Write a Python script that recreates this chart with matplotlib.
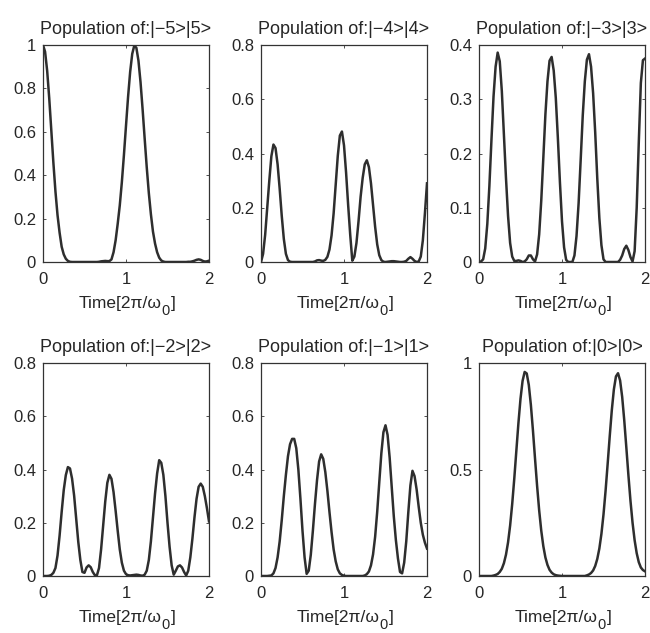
import numpy as np
import matplotlib
matplotlib.use("Agg")
import matplotlib.pyplot as plt

plt.rcParams['font.family'] = ['Liberation Sans', 'DejaVu Sans']
plt.rcParams['mathtext.fontset'] = 'custom'
plt.rcParams['mathtext.rm'] = 'Liberation Sans'
plt.rcParams['mathtext.it'] = 'Liberation Sans:italic'

# sample times (units of 2*pi/omega_0), step 0.025
TIME = np.linspace(0, 2, 81)

POP_M5 = [1.0, .969, .882, .755, .607, .458, .325, .216, .135, .07,
          .035, .015, .005, .001, 0, 0, 0, 0, 0, 0,
          0, 0, 0, 0, 0, 0, 0, .001, .003, .004,
          .005, .004, .004, .012, .045, .10, .176, .261, .368, .493,
          .628, .761, .876, .959, .998, .987, .928, .829, .704, .568,
          .436, .318, .220, .140, .085, .045, .02, .007, .002, 0,
          0, 0, 0, 0, 0, 0, 0, 0, 0, 0,
          .001, .001, .003, .006, .010, .012, .010, .005, .002, .003,
          .006]

POP_M4 = [0, .03, .10, .20, .30, .39, .433, .42, .36, .27,
          .17, .085, .03, .007, .001, 0, 0, 0, 0, 0,
          0, 0, 0, 0, 0, 0, .002, .006, .007, .005,
          .004, .008, .019, .046, .098, .179, .285, .391, .466, .481,
          .43, .33, .21, .10, .005, .02, .07, .15, .24, .31,
          .36, .375, .35, .29, .21, .13, .065, .025, .007, .001,
          0, .001, .002, .003, .003, .002, .001, 0, 0, .001,
          .004, .012, .018, .012, .004, 0, .002, .02, .08, .18,
          .29]

POP_M3 = [0, .001, .005, .025, .07, .14, .225, .305, .36, .386,
          .37, .315, .235, .155, .085, .035, .01, .002, .002, .003,
          .002, 0, .001, .005, .012, .012, .005, .001, .014, .051,
          .113, .192, .272, .333, .371, .378, .353, .303, .229, .147,
          .075, .027, .004, 0, 0, 0, .012, .048, .108, .188,
          .270, .333, .373, .383, .360, .311, .239, .154, .081, .031,
          .005, 0, 0, 0, 0, 0, 0, 0, .004, .012,
          .024, .030, .022, .009, .001, .02, .10, .22, .33, .372,
          .375]

POP_M2 = [0, 0, 0, .001, .004, .012, .03, .077, .152, .241,
          .323, .379, .409, .404, .366, .302, .215, .128, .060, .015,
          .012, .032, .040, .033, .015, .003, .003, .03, .10, .19,
          .28, .35, .38, .365, .315, .245, .17, .10, .05, .02,
          .007, .003, .002, .003, .004, .005, .004, .002, .001, .005,
          .02, .06, .13, .22, .31, .385, .435, .425, .38, .30,
          .20, .11, .04, .005, .02, .036, .040, .032, .015, .002,
          .02, .07, .14, .22, .29, .335, .347, .335, .30, .255,
          .205]

POP_M1 = [0, 0, 0, 0, .001, .002, .01, .03, .07, .13,
          .21, .30, .38, .45, .495, .515, .515, .48, .40, .29,
          .17, .07, .008, .02, .08, .17, .27, .36, .43, .457,
          .44, .39, .32, .24, .165, .10, .055, .025, .01, .004,
          .001, 0, 0, 0, 0, 0, 0, 0, 0, 0,
          .002, .007, .017, .040, .081, .147, .241, .352, .461, .540,
          .566, .530, .445, .334, .224, .135, .066, .015, .01, .05,
          .13, .24, .34, .395, .375, .325, .26, .20, .155, .125,
          .103]

POP_0 = [0, 0, 0, 0, 0, 0, 0, .002, .005, .0095,
         .019, .034, .060, .100, .158, .237, .338, .457, .588, .718,
         .832, .916, .958, .951, .897, .803, .683, .551, .423, .308,
         .213, .140, .087, .052, .029, .016, .008, .004, .002, .001,
         0, 0, 0, 0, 0, 0, 0, 0, 0, 0,
         0, 0, .003, .007, .014, .026, .047, .080, .129, .198,
         .289, .400, .526, .656, .778, .876, .937, .952, .918, .841,
         .731, .604, .474, .353, .250, .168, .107, .065, .040, .028,
         .022]

TITLES = ["Population of:|−5>|5>", "Population of:|−4>|4>", "Population of:|−3>|3>",
          "Population of:|−2>|2>", "Population of:|−1>|1>", "Population of:|0>|0>"]
SERIES = [POP_M5, POP_M4, POP_M3, POP_M2, POP_M1, POP_0]
YMAX = [1, 0.8, 0.4, 0.8, 0.8, 1]
YTICKS = [[0, 0.2, 0.4, 0.6, 0.8, 1],
          [0, 0.2, 0.4, 0.6, 0.8],
          [0, 0.1, 0.2, 0.3, 0.4],
          [0, 0.2, 0.4, 0.6, 0.8],
          [0, 0.2, 0.4, 0.6, 0.8],
          [0, 0.5, 1]]
YTICKLABELS = [["0", "0.2", "0.4", "0.6", "0.8", "1"],
               ["0", "0.2", "0.4", "0.6", "0.8"],
               ["0", "0.1", "0.2", "0.3", "0.4"],
               ["0", "0.2", "0.4", "0.6", "0.8"],
               ["0", "0.2", "0.4", "0.6", "0.8"],
               ["0", "0.5", "1"]]
XTICKS = [0, 1, 2]
XTICKLABELS = ["0", "1", "2"]
# x-axis label: "Time[2π/ω" + subscript "0" + "]"
XLABEL_MAIN = "Time[2π/ω"
XLABEL_SUB = "0"
XLABEL_END = "]"

W, H = 650, 633
fig = plt.figure(figsize=(W / 100, H / 100), dpi=100)
lefts = [43, 261, 479]
rows = [(45, 262), (363, 576)]
axw = 166
txt = '#262626'
PX = 0.72  # points per pixel at 100 dpi
for k in range(6):
    r, c = divmod(k, 3)
    top, bot = rows[r]
    ax = fig.add_axes([lefts[c] / W, 1 - bot / H, axw / W, (bot - top) / H])
    ax.plot(TIME, SERIES[k], color='#2e2e2e', lw=1.8, solid_joinstyle='round')
    ax.set_xlim(0, 2)
    ax.set_ylim(0, YMAX[k])
    ax.set_xticks(XTICKS)
    ax.set_xticklabels(XTICKLABELS)
    ax.set_yticks(YTICKS[k])
    ax.set_yticklabels(YTICKLABELS[k])
    ax.tick_params(direction='in', length=2.5, width=0.6, top=True, right=True,
                   labelsize=12, colors='#333333', labelcolor=txt)
    ax.tick_params(axis='y', pad=5)
    ax.tick_params(axis='x', pad=7.5)
    for s in ax.spines.values():
        s.set_linewidth(0.9)
        s.set_color('#333333')
    ax.set_title(TITLES[k], fontsize=13, color=txt, pad=8)

    t1 = ax.annotate(XLABEL_MAIN, xy=(0.5, 0), xycoords='axes fraction',
                     xytext=(-6 * PX, -46 * PX), textcoords='offset points',
                     ha='center', va='baseline', fontsize=12.5, color=txt,
                     annotation_clip=False)
    t2 = ax.annotate(XLABEL_SUB, xy=(1, 0), xycoords=(t1, 'axes fraction'),
                     xytext=(0.2, -53 * PX), textcoords='offset points',
                     ha='left', va='baseline', fontsize=10.5, color=txt,
                     annotation_clip=False)
    t3 = ax.annotate(XLABEL_END, xy=(1, 0), xycoords=(t2, 'axes fraction'),
                     xytext=(0.4, -46 * PX), textcoords='offset points',
                     ha='left', va='baseline', fontsize=12.5, color=txt,
                     annotation_clip=False)

fig.savefig("out.png", dpi=100)
